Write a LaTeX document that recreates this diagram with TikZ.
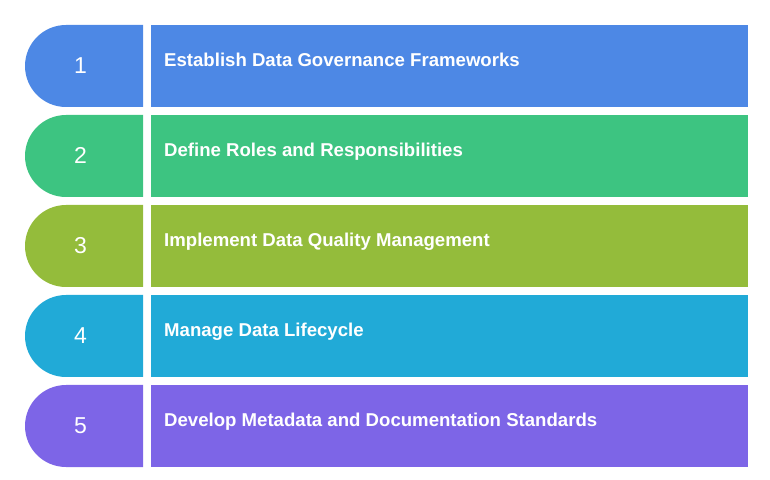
\documentclass[tikz,border=0pt]{standalone}
\usepackage{fontspec}
\setmainfont{Liberation Sans}
\definecolor{cA}{HTML}{4D88E5}
\definecolor{cB}{HTML}{3DC481}
\definecolor{cC}{HTML}{94BC3B}
\definecolor{cD}{HTML}{21AAD7}
\definecolor{cE}{HTML}{7D65E7}
\tikzset{
  numtxt/.style={text=white, font=\fontsize{23}{25}\selectfont, anchor=base, inner sep=0pt},
  labtxt/.style={text=white, font=\bfseries\fontsize{18.6}{21}\selectfont, anchor=base west, inner sep=0pt}
}
\begin{document}
\begin{tikzpicture}[x=1pt,y=1pt]
\useasboundingbox (0,0) rectangle (770,479);
\foreach \i/\c/\t in {0/cA/Establish Data Governance Frameworks,1/cB/Define Roles and Responsibilities,2/cC/Implement Data Quality Management,3/cD/Manage Data Lifecycle,4/cE/Develop Metadata and Documentation Standards}{
  \pgfmathsetmacro{\top}{454-90*\i}
  \pgfmathsetmacro{\bot}{372-90*\i}
  \pgfmathsetmacro{\base}{412.5-90*\i}
  \pgfmathsetmacro{\nbase}{405.7-90*\i}
  \pgfmathtruncatemacro{\n}{\i+1}
  \fill[\c] (143,\top) -- (66,\top) arc[start angle=90, end angle=270, radius=41] -- (143,\bot) -- cycle;
  \fill[\c] (151,\bot) rectangle (748,\top);
  \node[numtxt] (num\n) at (80.5,\nbase) {\n};
  \node[labtxt] (lab\n) at (164,\base) {\t};
}
\end{tikzpicture}
\end{document}
